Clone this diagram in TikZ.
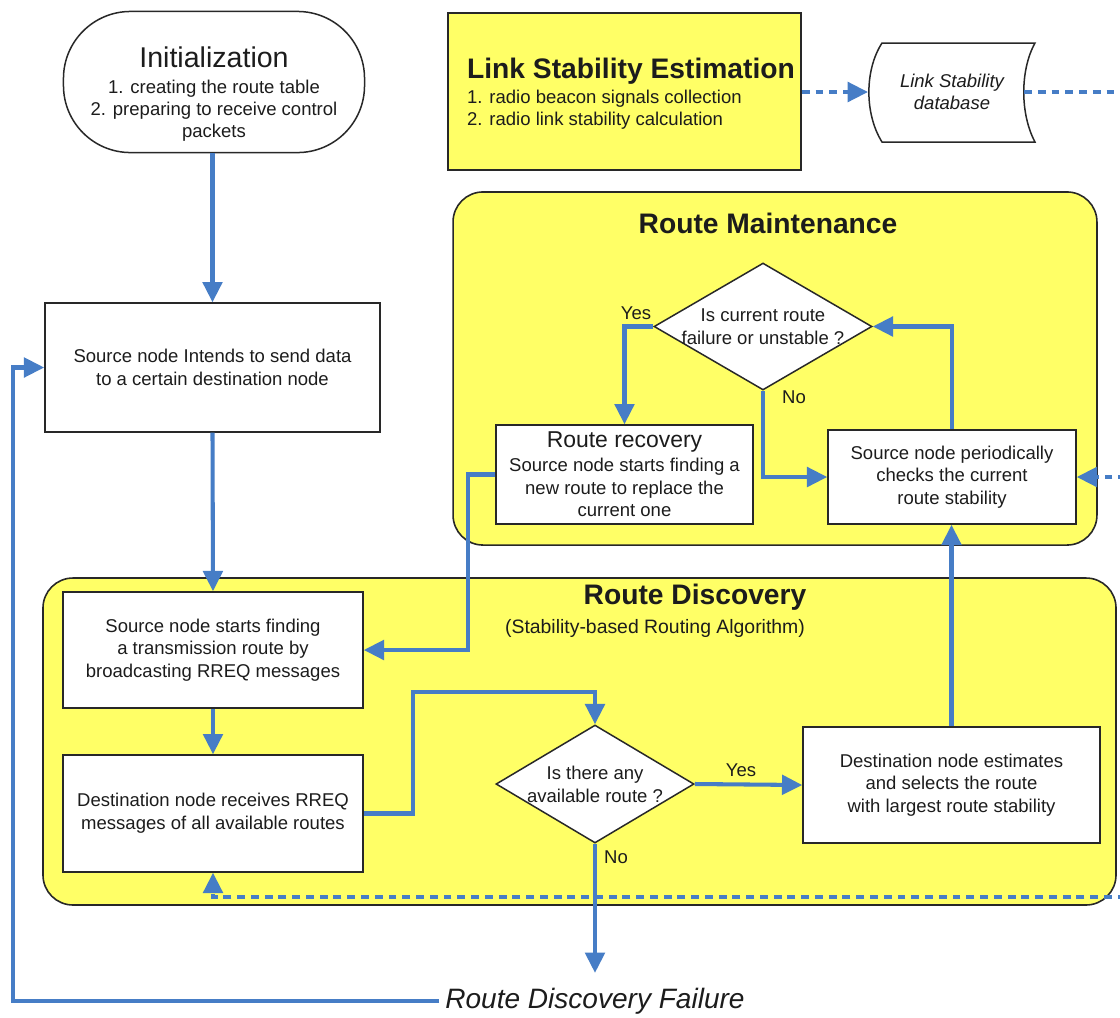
\documentclass[tikz,border=0pt]{standalone}
\usepackage{fontspec}
\setmainfont{Liberation Sans}
\usetikzlibrary{arrows.meta,shapes.geometric,calc}

\definecolor{hiyel}{RGB}{255,255,102}
\definecolor{flowblue}{RGB}{70,125,198}
\definecolor{edgegray}{RGB}{40,40,40}
\definecolor{ink}{RGB}{28,28,28}

\newcommand\fsz[2]{\fontsize{#1}{#2}\selectfont}

\begin{document}
\begin{tikzpicture}[x=0.567pt,y=-0.567pt,
  box/.style={draw=edgegray, line width=0.85pt, fill=white, text=ink,
    align=center, inner sep=2pt, font=\fsz{10.5}{12.9}},
  plain/.style={text=ink, align=center, inner sep=0pt, font=\fsz{10.5}{12.5}},
  group/.style={draw=edgegray, line width=0.9pt, fill=hiyel, rounded corners=17pt},
  decision/.style={diamond, draw=edgegray, line width=0.85pt, fill=white, text=ink,
    align=center, inner sep=-3pt, aspect=1.7, font=\fsz{10.5}{12.9}},
  flow/.style={draw=flowblue, line width=2.3pt, -{Triangle[length=11.5pt,width=11pt]}},
  link/.style={flow, dash pattern=on 4.5pt off 3.3pt},
  tag/.style={text=ink, font=\fsz{10.5}{12.5}},
  heading/.style={text=ink, font=\fsz{16}{19}\bfseries}]

\useasboundingbox (0,0) rectangle (1120,1017);
\clip (0,0) rectangle (1120,1017);
\fill[white] (0,0) rectangle (1120,1017);

% --- group frames ---
\node[group, minimum width=365.1pt, minimum height=200.2pt] (rm) at (775,368.5) {};
\node[group, minimum width=608.4pt, minimum height=185.4pt] (rd) at (579.5,741.5) {};
\node[heading] (rmtitle) at (768,223) {Route Maintenance};
\node[heading] (rdtitle) at (695,597) {Route Discovery};
\node[text=ink, font=\fsz{11}{13}] (rdsub) at (655,628) {(Stability-based Routing Algorithm)};

% --- top row ---
\node[box, rounded corners=38pt, minimum width=170.7pt, minimum height=80pt] (init) at (214,82) {};
\node[plain] (inittxt) at (214,94)
  {{\fsz{16.2}{19}Initialization}\\[1.8pt]1. creating the route table\\2. preparing to receive control\\packets};

\node[box, fill=hiyel, minimum width=200.2pt, minimum height=89pt] (lse) at (624.5,91.5) {};
\node[plain, align=left] (lsetxt) at (631,94)
  {{\fsz{16}{19}\bfseries Link Stability Estimation}\\[1.5pt]1. radio beacon signals collection\\2. radio link stability calculation};

% stored-data shape
\draw[draw=edgegray, line width=0.85pt, fill=white]
  (882,43) -- (1035,43) .. controls (1020,70) and (1020,114) .. (1035,142)
  -- (882,142) .. controls (864.5,114) and (864.5,70) .. (882,43) -- cycle;
\node[text=ink, align=center, font=\fsz{10.5}{12.5}\itshape] (db) at (952,92) {Link Stability\\database};
\coordinate (dbin) at (868,92);
\coordinate (dbout) at (1024,92);

% --- left column ---
\node[box, minimum width=190pt, minimum height=73.1pt] (srcint) at (212.5,367.5)
  {Source node Intends to send data\\to a certain destination node};
\node[box, minimum width=170.1pt, minimum height=65.8pt] (srcst) at (213,650)
  {Source node starts finding\\a transmission route by\\broadcasting RREQ messages};
\node[box, minimum width=170.1pt, minimum height=66.3pt] (dstrcv) at (213,813.5)
  {Destination node receives RREQ\\messages of all available routes};

% --- route maintenance ---
\node[decision, minimum width=123.6pt, minimum height=72pt] (dia1) at (763,326.5)
  {Is current route\\failure or unstable ?};
\node[box, minimum width=145.7pt, minimum height=56.1pt, inner sep=1pt] (rr) at (624.5,474.5)
  {{\fsz{13}{15}Route recovery}\\[0.6pt]Source node starts finding a\\new route to replace the\\current one};
\node[box, minimum width=140.6pt, minimum height=53.3pt] (chk) at (952,477)
  {Source node periodically\\checks the current\\route stability};

% --- route discovery ---
\node[decision, minimum width=112.3pt, minimum height=66.9pt] (dia2) at (595,784)
  {Is there any\\available route ?};
\node[box, minimum width=168.4pt, minimum height=65.8pt] (dstest) at (951.5,785)
  {Destination node estimates\\and selects the route\\with largest route stability};

\node[text=ink, font=\fsz{15.9}{18}\itshape] (fail) at (595,1001) {Route Discovery Failure};

% --- branch labels ---
\node[tag] (yes1) at (636,313) {Yes};
\node[tag] (no1) at (794,397) {No};
\node[tag] (yes2) at (741,770) {Yes};
\node[tag] (no2) at (616,857) {No};

% --- control flow ---
\draw[flow] (init.south -| srcint.north) -- (srcint.north);
\draw[flow] (srcint.south) -- (srcst.north);
\draw[flow] (srcst.south) -- (dstrcv.north);
\coordinate (up1) at (413,692);
\draw[flow] (dstrcv.east) -| (up1) -| (dia2.north);
\draw[flow] (dia2.east) -- (dstest.west);
\draw[flow, shorten >=5pt] (dia2.south) -- (fail.north);
\coordinate (loop) at (13,700);
\draw[flow] (fail.west) -| (loop) |- (srcint.west);
\draw[flow] (dstest.north) -- (dstest.north |- chk.south);
\draw[flow] (chk.north) |- (dia1.east);
\draw[flow] (dia1.west) -| (rr.north);
\draw[flow] (dia1.south) |- (chk.west);
\draw[flow] (rr.west) -- ++(-27,0) |- (srcst.east);

% --- link stability data feed ---
\coordinate (bus) at (1140,92);
\coordinate (busfoot) at (1140,897);
\draw[link] (lse.east |- dbin) -- (dbin);
\draw[link] (dbout) -- (bus) -- (busfoot) -| (dstrcv.south);
\draw[link] (bus |- chk.east) -- (chk.east);

\end{tikzpicture}
\end{document}
